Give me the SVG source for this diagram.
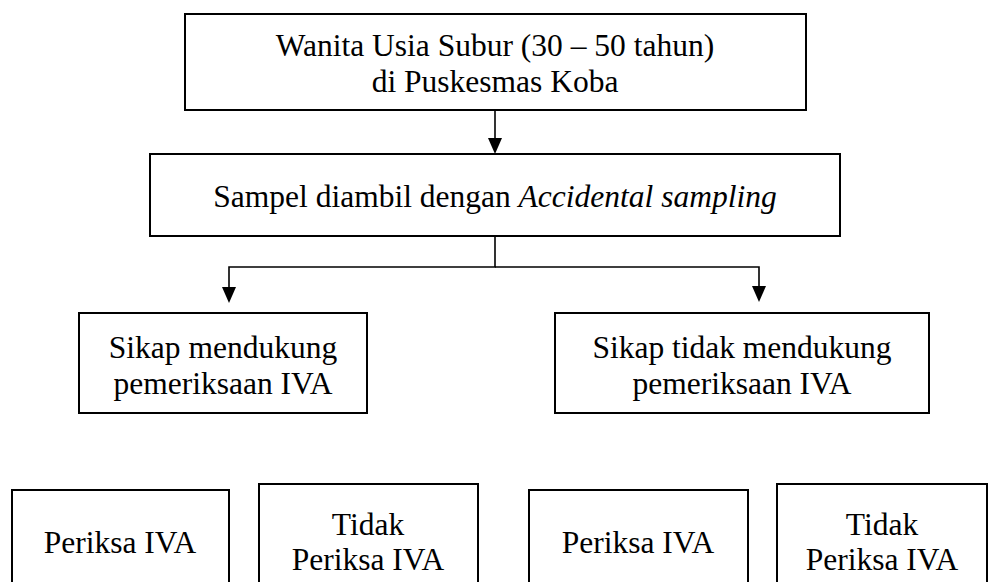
<svg xmlns="http://www.w3.org/2000/svg" width="989" height="582" viewBox="0 0 989 582">
<style>
.box{fill:#fff;stroke:#000;stroke-width:2}
text{font-family:'Liberation Serif',Tinos,'Times New Roman',Times,serif;font-size:31.5px;fill:#000;text-anchor:middle}
.c{fill:none;stroke:#000;stroke-width:1.6}
.ah{fill:#000;stroke:none}
</style>
<rect width="989" height="582" fill="#fff"/>
<g id="connectors">
<line class="c" x1="495" y1="110" x2="495" y2="140"/>
<path class="ah" d="M488,138 L502,138 L495,154 Z"/>
<polyline class="c" points="495,236 495,267 229,267 229,289"/>
<polyline class="c" points="495,267 759,267 759,288"/>
<path class="ah" d="M222,287 L236,287 L229,303 Z"/>
<path class="ah" d="M752,286 L766,286 L759,302 Z"/>
</g>
<g id="n1">
<rect class="box" x="185" y="14" width="621" height="96"/>
<text x="495" y="56">Wanita Usia Subur (30 – 50 tahun)</text>
<text x="495" y="92">di Puskesmas Koba</text>
</g>
<g id="n2">
<rect class="box" x="150" y="154" width="690" height="82"/>
<text x="495" y="207">Sampel diambil dengan <tspan font-style="italic">Accidental sampling</tspan></text>
</g>
<g id="n3">
<rect class="box" x="79" y="313" width="288" height="100"/>
<text x="223" y="358">Sikap mendukung</text>
<text x="223" y="394">pemeriksaan IVA</text>
</g>
<g id="n4">
<rect class="box" x="555" y="313" width="374" height="100"/>
<text x="742" y="358">Sikap tidak mendukung</text>
<text x="742" y="394">pemeriksaan IVA</text>
</g>
<g id="n5">
<rect class="box" x="12" y="490" width="217" height="110"/>
<text x="120" y="553">Periksa IVA</text>
</g>
<g id="n6">
<rect class="box" x="259" y="484" width="219" height="116"/>
<text x="368" y="535">Tidak</text>
<text x="368" y="570">Periksa IVA</text>
</g>
<g id="n7">
<rect class="box" x="529" y="490" width="219" height="110"/>
<text x="638" y="553">Periksa IVA</text>
</g>
<g id="n8">
<rect class="box" x="777" y="484" width="210" height="116"/>
<text x="882" y="535">Tidak</text>
<text x="882" y="570">Periksa IVA</text>
</g>
</svg>
